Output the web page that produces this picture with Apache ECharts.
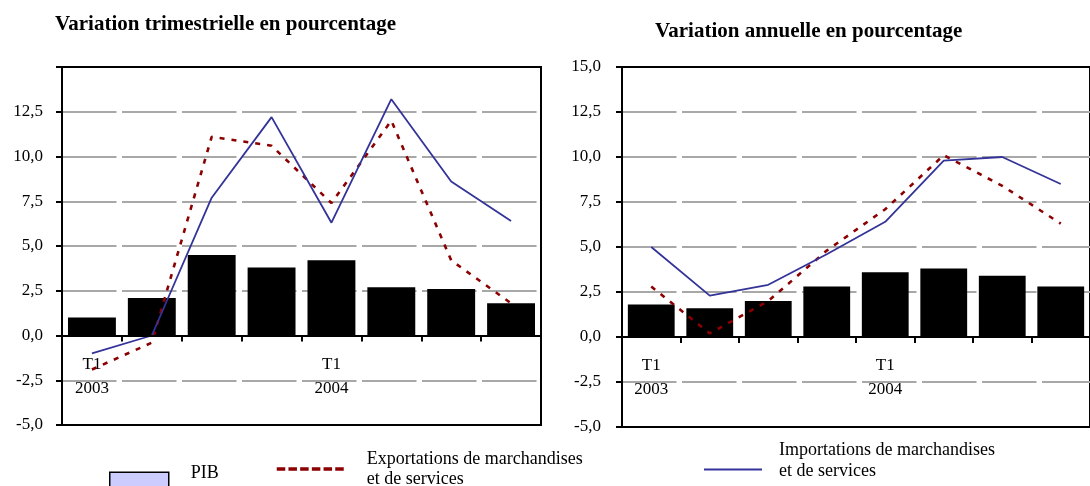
<!DOCTYPE html>
<html>
<head>
<meta charset="utf-8">
<script src="https://cdn.jsdelivr.net/npm/echarts@6/dist/echarts.min.js"></script>
<style>
  html, body { margin: 0; padding: 0; background: #fff; }
  #chart { width: 1090px; height: 486px; }
</style>
</head>
<body>
<div id="chart"></div>
<script>
// ---- Data ----
const quarters = ['T1 2003', 'T2 2003', 'T3 2003', 'T4 2003', 'T1 2004', 'T2 2004', 'T3 2004', 'T4 2004'];
const yTicks = [-5, -2.5, 0, 2.5, 5, 7.5, 10, 12.5, 15];

// Variation trimestrielle
const pibQ = [1.0, 2.1, 4.5, 3.8, 4.2, 2.7, 2.6, 1.8];
const expQ = [-1.9, -0.4, 11.1, 10.6, 7.4, 12.0, 4.2, 1.8];
const impQ = [-1.0, 0.0, 7.7, 12.2, 6.3, 13.2, 8.6, 6.4];

// Variation annuelle
const pibA = [1.8, 1.6, 2.0, 2.8, 3.6, 3.8, 3.4, 2.8];
const expA = [2.8, 0.2, 2.0, 4.8, 7.1, 10.1, 8.4, 6.3];
const impA = [5.0, 2.3, 2.9, 4.6, 6.4, 9.8, 10.0, 8.5];

const titles = ['Variation trimestrielle en pourcentage', 'Variation annuelle en pourcentage'];
const names = ['PIB', 'Exportations de marchandises et de services', 'Importations de marchandises et de services'];

// ---- Styles ----
const FONT = 'Liberation Serif';
const RED = '#8b0000';
const BLUE = '#333399';

function fmtY(v) { return v.toFixed(1).replace('.', ','); }

// main category axis (line on zero, ticks, no labels)
function xAxisFor(gi) {
  return {
    type: 'category', gridIndex: gi, data: quarters, z: 4,
    axisLine: { onZero: true, lineStyle: { color: '#000', width: 2 } },
    axisTick: { show: true, length: 6, lineStyle: { color: '#000', width: 2 } },
    axisLabel: { show: false },
    splitLine: { show: false }
  };
}
// label-only axis placed just under the zero line
function xLabelAxisFor(gi, offset) {
  return {
    type: 'category', gridIndex: gi, data: quarters, position: 'bottom', offset: offset,
    axisLine: { show: false, onZero: false },
    axisTick: { show: false },
    splitLine: { show: false },
    axisLabel: {
      interval: 0, margin: 17, color: '#000', fontFamily: FONT, fontSize: 17, lineHeight: 24,
      formatter: function (v) { return v.indexOf('T1') === 0 ? v.replace(' ', '\n') : ''; }
    }
  };
}

function yAxisFor(gi, hideMax, margin) {
  return {
    type: 'value', gridIndex: gi, min: yTicks[0], max: yTicks[yTicks.length - 1], interval: 2.5,
    axisLine: { show: true, lineStyle: { color: '#000', width: 2 } },
    axisTick: { show: true, length: 6, lineStyle: { color: '#000', width: 2 } },
    axisLabel: {
      margin: margin, color: '#000', fontFamily: FONT, fontSize: 17,
      formatter: function (v) { return (hideMax && v === yTicks[yTicks.length - 1]) ? '' : fmtY(v); }
    },
    splitLine: {
      show: true, showMinLine: false, showMaxLine: false,
      lineStyle: { color: '#a8a8a8', width: 2, type: [54.5, 5.5] }
    }
  };
}

function seriesFor(gi, pib, exp, imp) {
  return [
    { name: names[0], type: 'bar', xAxisIndex: gi, yAxisIndex: gi, data: pib,
      barCategoryGap: '20%', itemStyle: { color: '#000' } },
    { name: names[1], type: 'line', xAxisIndex: gi, yAxisIndex: gi, data: exp,
      symbol: 'none', lineStyle: { color: RED, width: 2.6, type: [5, 7] }, itemStyle: { color: RED } },
    { name: names[2], type: 'line', xAxisIndex: gi, yAxisIndex: gi, data: imp,
      symbol: 'none', lineStyle: { color: BLUE, width: 1.8 }, itemStyle: { color: BLUE } }
  ];
}

const baseText = { fontFamily: FONT, fontSize: 18, color: '#000' };

const option = {
  animation: false,
  backgroundColor: '#fff',
  title: [
    { text: titles[0], left: 55, top: 14, padding: 0,
      textStyle: { fontFamily: FONT, fontSize: 21, fontWeight: 'bold', color: '#000' } },
    { text: titles[1], left: 655, top: 21, padding: 0,
      textStyle: { fontFamily: FONT, fontSize: 21, fontWeight: 'bold', color: '#000' } }
  ],
  grid: [
    { left: 62, top: 67, width: 479, height: 358, show: true, borderColor: '#000', borderWidth: 2, backgroundColor: 'transparent' },
    { left: 622, top: 67, width: 480, height: 360, show: true, borderColor: '#000', borderWidth: 2, backgroundColor: 'transparent' }
  ],
  xAxis: [xAxisFor(0), xAxisFor(1), xLabelAxisFor(0, -89.5), xLabelAxisFor(1, -90)],
  yAxis: [yAxisFor(0, true, 19), yAxisFor(1, false, 21)],
  legend: [
    { data: [{ name: names[0], icon: 'rect', itemStyle: { color: '#ccccff', borderColor: '#000', borderWidth: 1.5 } }],
      formatter: function (n) { return '{a|' + n + '}\n{b| }'; },
      left: 109, top: 464, padding: 0, itemWidth: 59, itemHeight: 30, selectedMode: false,
      textStyle: Object.assign({}, baseText, { padding: [0, 0, 0, 17],
        rich: { a: Object.assign({}, baseText, { lineHeight: 17 }), b: Object.assign({}, baseText, { lineHeight: 28.4 }) } }) },
    { data: [names[1]],
      formatter: function (n) { return n.replace(' et ', '\net '); },
      left: 275, top: 449, padding: 0, itemWidth: 70, itemHeight: 14, selectedMode: false,
      lineStyle: { color: RED, width: 3.5, type: [8.5, 3.2] }, itemStyle: { opacity: 0 },
      textStyle: Object.assign({}, baseText, { lineHeight: 20, padding: [0, 0, 0, 15] }) },
    { data: [names[2]],
      formatter: function (n) { const p = n.split(' et '); return '{a|' + p[0] + '}\n{a|et ' + p[1] + '}\n{b| }'; },
      left: 703, top: 441.25, padding: 0, itemWidth: 58, itemHeight: 14, selectedMode: false,
      lineStyle: { color: BLUE, width: 2 }, itemStyle: { opacity: 0 },
      textStyle: Object.assign({}, baseText, { padding: [0, 0, 0, 12],
        rich: { a: Object.assign({}, baseText, { lineHeight: 21.5 }), b: Object.assign({}, baseText, { lineHeight: 17.1 }) } }) }
  ],
  series: [].concat(seriesFor(0, pibQ, expQ, impQ), seriesFor(1, pibA, expA, impA))
};

const chart = echarts.init(document.getElementById('chart'), null, { renderer: 'canvas' });
chart.setOption(option);
</script>
</body>
</html>
